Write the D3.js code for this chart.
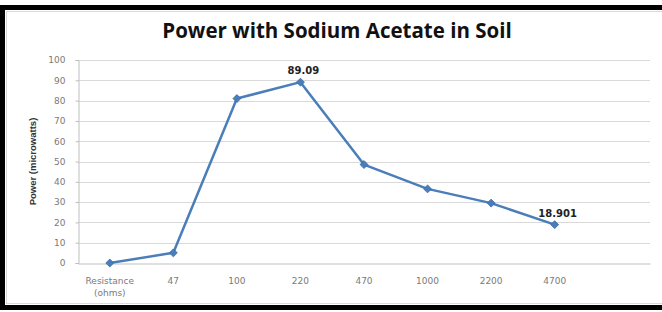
<!DOCTYPE html>
<html>
<head>
<meta charset="utf-8">
<script src="https://cdn.jsdelivr.net/npm/d3@7"></script>
<style>
  html, body { margin: 0; padding: 0; background: #fff; }
  svg { display: block; }
</style>
</head>
<body>
<div id="chart"></div>
<script>
// categories (last one is empty in the original sheet)
var categories = ['Resistance\n(ohms)', '47', '100', '220', '470', '1000', '2200', '4700', ''];
var power = [0, 5, 81, 89.09, 48.5, 36.5, 29.5, 18.901];
var yTicks = [0, 10, 20, 30, 40, 50, 60, 70, 80, 90, 100];
var labelled = [3, 7];  // points that carry a data label

var width = 662, height = 312;
var margin = {left: 78, right: 12, top: 60, bottom: 49};

var svg = d3.select('#chart').append('svg')
  .attr('width', width)
  .attr('height', height);

// frame
svg.append('rect')
  .attr('x', 2.5).attr('y', 7.5)
  .attr('width', width + 10).attr('height', 300)
  .attr('fill', '#fff')
  .attr('stroke', '#000')
  .attr('stroke-width', 5);
svg.append('rect')
  .attr('x', 6.5).attr('y', 11.5)
  .attr('width', width).attr('height', 292)
  .attr('fill', 'none')
  .attr('stroke', '#d9d9d9')
  .attr('stroke-width', 1);

var x = d3.scaleBand()
  .domain(d3.range(categories.length))
  .range([margin.left, width - margin.right]);

var y = d3.scaleLinear()
  .domain([0, 100])
  .range([height - margin.bottom, margin.top]);

// gridlines
svg.append('g')
  .selectAll('line')
  .data(yTicks.slice(1))
  .enter()
  .append('line')
  .attr('x1', margin.left)
  .attr('x2', width - margin.right)
  .attr('y1', function (d) { return Math.round(y(d)) + 0.5; })
  .attr('y2', function (d) { return Math.round(y(d)) + 0.5; })
  .attr('stroke', '#d9d9d9')
  .attr('stroke-width', 1.2);

// y axis
var yAxis = svg.append('g')
  .attr('transform', 'translate(' + (margin.left + 0.5) + ',0)')
  .call(d3.axisLeft(y).tickValues(yTicks).tickSize(3).tickPadding(10));
yAxis.select('.domain').attr('stroke', '#bfbfbf');
yAxis.selectAll('.tick line').attr('stroke', '#bfbfbf');
yAxis.selectAll('.tick text')
  .attr('fill', '#7a7a7a')
  .attr('font-family', 'DejaVu Sans, sans-serif')
  .attr('font-size', '9px');

// x axis
var xAxis = svg.append('g')
  .attr('transform', 'translate(0,' + (Math.round(y(0)) + 0.5) + ')')
  .call(d3.axisBottom(x).tickSize(0).tickFormat(''));
xAxis.select('.domain').attr('stroke', '#bfbfbf');

svg.append('g')
  .selectAll('text')
  .data(categories)
  .enter()
  .append('text')
  .attr('x', function (d, i) { return x(i) + x.bandwidth() / 2; })
  .attr('y', y(0) + 21)
  .attr('text-anchor', 'middle')
  .attr('fill', '#7a7a7a')
  .attr('font-family', 'DejaVu Sans, sans-serif')
  .attr('font-size', '9px')
  .each(function (d) {
    var lines = d.split('\n');
    var t = d3.select(this);
    lines.forEach(function (s, k) {
      t.append('tspan')
        .attr('x', t.attr('x'))
        .attr('dy', k === 0 ? 0 : 12)
        .text(s);
    });
  });

// line
var line = d3.line()
  .x(function (d, i) { return x(i) + x.bandwidth() / 2; })
  .y(function (d) { return y(d); });

svg.append('path')
  .datum(power)
  .attr('d', line)
  .attr('fill', 'none')
  .attr('stroke', '#4a7ebb')
  .attr('stroke-width', 2.5)
  .attr('stroke-linejoin', 'round');

svg.append('g')
  .selectAll('path')
  .data(power)
  .enter()
  .append('path')
  .attr('d', d3.symbol().type(d3.symbolDiamond2).size(40))
  .attr('transform', function (d, i) {
    return 'translate(' + (x(i) + x.bandwidth() / 2) + ',' + y(d) + ')';
  })
  .attr('fill', '#4a7ebb')
  .attr('stroke', '#3d6aa3')
  .attr('stroke-width', 0.8);

// data labels
svg.append('g')
  .selectAll('text')
  .data(labelled)
  .enter()
  .append('text')
  .attr('x', function (i) { return x(i) + x.bandwidth() / 2 + 3; })
  .attr('y', function (i) { return y(power[i]) - 8; })
  .attr('text-anchor', 'middle')
  .attr('font-family', 'DejaVu Sans, sans-serif')
  .attr('font-weight', 'bold')
  .attr('font-size', '10px')
  .attr('fill', '#222')
  .text(function (i) { return power[i]; });

// titles
svg.append('text')
  .attr('x', 337)
  .attr('y', 38)
  .attr('text-anchor', 'middle')
  .attr('font-family', 'Open Sans, sans-serif')
  .attr('font-weight', 'bold')
  .attr('font-size', '20.5px')
  .attr('fill', '#111')
  .text('Power with Sodium Acetate in Soil');

svg.append('text')
  .attr('transform', 'translate(36,' + ((y(0) + y(100)) / 2) + ') rotate(-90)')
  .attr('text-anchor', 'middle')
  .attr('font-family', 'Liberation Sans, sans-serif')
  .attr('font-weight', 'bold')
  .attr('font-size', '9.5px')
  .attr('fill', '#333')
  .text('Power (microwatts)');
</script>
</body>
</html>
